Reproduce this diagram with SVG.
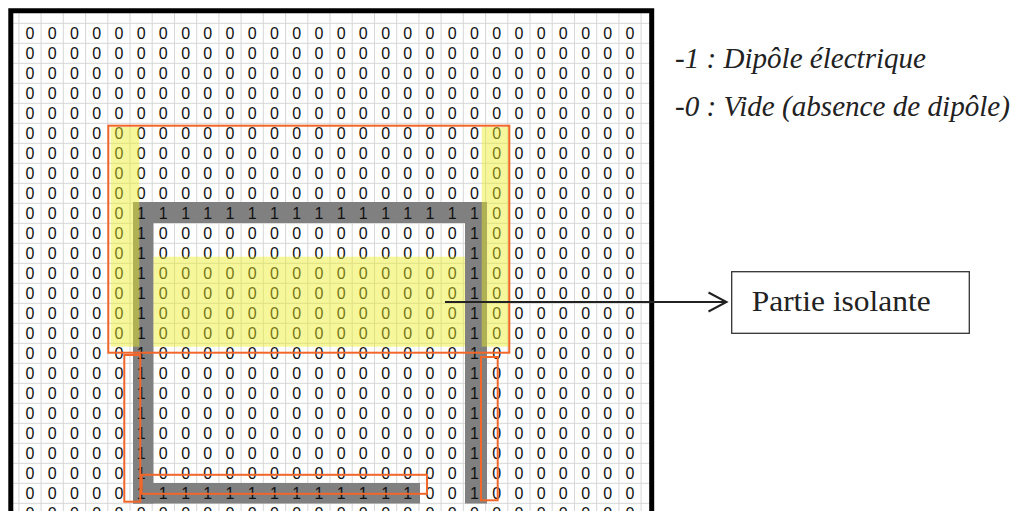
<svg xmlns="http://www.w3.org/2000/svg" width="1019" height="511" viewBox="0 0 1019 511">
<style>
.d{font-family:"Liberation Sans",Arial,sans-serif;font-size:16px;fill:#111;text-anchor:middle}
.grid{stroke:#d6d6d6;stroke-width:1;fill:none}
.gray{fill:#808080}
.yel{fill:rgb(235,235,30);fill-opacity:0.45}
.org{fill:none;stroke:#f2662a;stroke-width:2}
.leg{font-family:"Liberation Serif","Times New Roman",serif;font-style:italic;font-size:29px;fill:#222}
.lbl{font-family:"Liberation Serif","Times New Roman",serif;font-size:30px;fill:#222}
</style>
<defs>
<marker id="open" viewBox="0 0 22 22" refX="20" refY="11" markerWidth="22" markerHeight="22" markerUnits="userSpaceOnUse" orient="auto">
<path d="M2 1.5 L20 11 L2 20.5" fill="none" stroke="#222" stroke-width="2"/>
</marker>
</defs>
<rect width="1019" height="511" fill="#fff"/>
<g id="grid">
<path class="grid" d="M18.9 13V511M41.1 13V511M63.3 13V511M85.6 13V511M107.8 13V511M130 13V511M152.2 13V511M174.5 13V511M196.7 13V511M218.9 13V511M241.1 13V511M263.3 13V511M285.6 13V511M307.8 13V511M330 13V511M352.2 13V511M374.5 13V511M396.7 13V511M418.9 13V511M441.1 13V511M463.3 13V511M485.6 13V511M507.8 13V511M530 13V511M552.2 13V511M574.5 13V511M596.7 13V511M618.9 13V511M641.1 13V511M13 23.3H649M13 43.3H649M13 63.3H649M13 83.3H649M13 103.3H649M13 123.3H649M13 143.3H649M13 163.3H649M13 183.3H649M13 203.3H649M13 223.3H649M13 243.3H649M13 263.3H649M13 283.3H649M13 303.3H649M13 323.3H649M13 343.3H649M13 363.3H649M13 383.3H649M13 403.3H649M13 423.3H649M13 443.3H649M13 463.3H649M13 483.3H649M13 503.3H649"/>
</g>
<g id="dipoles">
<rect class="gray" x="133" y="202" width="354" height="21"/>
<rect class="gray" x="133" y="202" width="20.5" height="301.5"/>
<rect class="gray" x="465" y="202" width="22" height="301.5"/>
<rect class="gray" x="133" y="483" width="287" height="20.5"/>
</g>
<g id="values">
<text class="d" x="30 52.2 74.4 96.7 118.9 141.1 163.3 185.6 207.8 230 252.2 274.4 296.7 318.9 341.1 363.3 385.6 407.8 430 452.2 474.4 496.7 518.9 541.1 563.3 585.6 607.8 630" y="39">0000000000000000000000000000</text>
<text class="d" x="30 52.2 74.4 96.7 118.9 141.1 163.3 185.6 207.8 230 252.2 274.4 296.7 318.9 341.1 363.3 385.6 407.8 430 452.2 474.4 496.7 518.9 541.1 563.3 585.6 607.8 630" y="59">0000000000000000000000000000</text>
<text class="d" x="30 52.2 74.4 96.7 118.9 141.1 163.3 185.6 207.8 230 252.2 274.4 296.7 318.9 341.1 363.3 385.6 407.8 430 452.2 474.4 496.7 518.9 541.1 563.3 585.6 607.8 630" y="79">0000000000000000000000000000</text>
<text class="d" x="30 52.2 74.4 96.7 118.9 141.1 163.3 185.6 207.8 230 252.2 274.4 296.7 318.9 341.1 363.3 385.6 407.8 430 452.2 474.4 496.7 518.9 541.1 563.3 585.6 607.8 630" y="99">0000000000000000000000000000</text>
<text class="d" x="30 52.2 74.4 96.7 118.9 141.1 163.3 185.6 207.8 230 252.2 274.4 296.7 318.9 341.1 363.3 385.6 407.8 430 452.2 474.4 496.7 518.9 541.1 563.3 585.6 607.8 630" y="119">0000000000000000000000000000</text>
<text class="d" x="30 52.2 74.4 96.7 118.9 141.1 163.3 185.6 207.8 230 252.2 274.4 296.7 318.9 341.1 363.3 385.6 407.8 430 452.2 474.4 496.7 518.9 541.1 563.3 585.6 607.8 630" y="139">0000000000000000000000000000</text>
<text class="d" x="30 52.2 74.4 96.7 118.9 141.1 163.3 185.6 207.8 230 252.2 274.4 296.7 318.9 341.1 363.3 385.6 407.8 430 452.2 474.4 496.7 518.9 541.1 563.3 585.6 607.8 630" y="159">0000000000000000000000000000</text>
<text class="d" x="30 52.2 74.4 96.7 118.9 141.1 163.3 185.6 207.8 230 252.2 274.4 296.7 318.9 341.1 363.3 385.6 407.8 430 452.2 474.4 496.7 518.9 541.1 563.3 585.6 607.8 630" y="179">0000000000000000000000000000</text>
<text class="d" x="30 52.2 74.4 96.7 118.9 141.1 163.3 185.6 207.8 230 252.2 274.4 296.7 318.9 341.1 363.3 385.6 407.8 430 452.2 474.4 496.7 518.9 541.1 563.3 585.6 607.8 630" y="199">0000000000000000000000000000</text>
<text class="d" x="30 52.2 74.4 96.7 118.9 141.1 163.3 185.6 207.8 230 252.2 274.4 296.7 318.9 341.1 363.3 385.6 407.8 430 452.2 474.4 496.7 518.9 541.1 563.3 585.6 607.8 630" y="219">0000011111111111111110000000</text>
<text class="d" x="30 52.2 74.4 96.7 118.9 141.1 163.3 185.6 207.8 230 252.2 274.4 296.7 318.9 341.1 363.3 385.6 407.8 430 452.2 474.4 496.7 518.9 541.1 563.3 585.6 607.8 630" y="239">0000010000000000000010000000</text>
<text class="d" x="30 52.2 74.4 96.7 118.9 141.1 163.3 185.6 207.8 230 252.2 274.4 296.7 318.9 341.1 363.3 385.6 407.8 430 452.2 474.4 496.7 518.9 541.1 563.3 585.6 607.8 630" y="259">0000010000000000000010000000</text>
<text class="d" x="30 52.2 74.4 96.7 118.9 141.1 163.3 185.6 207.8 230 252.2 274.4 296.7 318.9 341.1 363.3 385.6 407.8 430 452.2 474.4 496.7 518.9 541.1 563.3 585.6 607.8 630" y="279">0000010000000000000010000000</text>
<text class="d" x="30 52.2 74.4 96.7 118.9 141.1 163.3 185.6 207.8 230 252.2 274.4 296.7 318.9 341.1 363.3 385.6 407.8 430 452.2 474.4 496.7 518.9 541.1 563.3 585.6 607.8 630" y="299">0000010000000000000010000000</text>
<text class="d" x="30 52.2 74.4 96.7 118.9 141.1 163.3 185.6 207.8 230 252.2 274.4 296.7 318.9 341.1 363.3 385.6 407.8 430 452.2 474.4 496.7 518.9 541.1 563.3 585.6 607.8 630" y="319">0000010000000000000010000000</text>
<text class="d" x="30 52.2 74.4 96.7 118.9 141.1 163.3 185.6 207.8 230 252.2 274.4 296.7 318.9 341.1 363.3 385.6 407.8 430 452.2 474.4 496.7 518.9 541.1 563.3 585.6 607.8 630" y="339">0000010000000000000010000000</text>
<text class="d" x="30 52.2 74.4 96.7 118.9 141.1 163.3 185.6 207.8 230 252.2 274.4 296.7 318.9 341.1 363.3 385.6 407.8 430 452.2 474.4 496.7 518.9 541.1 563.3 585.6 607.8 630" y="359">0000010000000000000010000000</text>
<text class="d" x="30 52.2 74.4 96.7 118.9 141.1 163.3 185.6 207.8 230 252.2 274.4 296.7 318.9 341.1 363.3 385.6 407.8 430 452.2 474.4 496.7 518.9 541.1 563.3 585.6 607.8 630" y="379">0000010000000000000010000000</text>
<text class="d" x="30 52.2 74.4 96.7 118.9 141.1 163.3 185.6 207.8 230 252.2 274.4 296.7 318.9 341.1 363.3 385.6 407.8 430 452.2 474.4 496.7 518.9 541.1 563.3 585.6 607.8 630" y="399">0000010000000000000010000000</text>
<text class="d" x="30 52.2 74.4 96.7 118.9 141.1 163.3 185.6 207.8 230 252.2 274.4 296.7 318.9 341.1 363.3 385.6 407.8 430 452.2 474.4 496.7 518.9 541.1 563.3 585.6 607.8 630" y="419">0000010000000000000010000000</text>
<text class="d" x="30 52.2 74.4 96.7 118.9 141.1 163.3 185.6 207.8 230 252.2 274.4 296.7 318.9 341.1 363.3 385.6 407.8 430 452.2 474.4 496.7 518.9 541.1 563.3 585.6 607.8 630" y="439">0000010000000000000010000000</text>
<text class="d" x="30 52.2 74.4 96.7 118.9 141.1 163.3 185.6 207.8 230 252.2 274.4 296.7 318.9 341.1 363.3 385.6 407.8 430 452.2 474.4 496.7 518.9 541.1 563.3 585.6 607.8 630" y="459">0000010000000000000010000000</text>
<text class="d" x="30 52.2 74.4 96.7 118.9 141.1 163.3 185.6 207.8 230 252.2 274.4 296.7 318.9 341.1 363.3 385.6 407.8 430 452.2 474.4 496.7 518.9 541.1 563.3 585.6 607.8 630" y="479">0000010000000000000010000000</text>
<text class="d" x="30 52.2 74.4 96.7 118.9 141.1 163.3 185.6 207.8 230 252.2 274.4 296.7 318.9 341.1 363.3 385.6 407.8 430 452.2 474.4 496.7 518.9 541.1 563.3 585.6 607.8 630" y="499">0000011111111111110010000000</text>
<text class="d" x="30 52.2 74.4 96.7 118.9 141.1 163.3 185.6 207.8 230 252.2 274.4 296.7 318.9 341.1 363.3 385.6 407.8 430 452.2 474.4 496.7 518.9 541.1 563.3 585.6 607.8 630" y="519">0000000000000000000000000000</text>
</g>
<g id="insulating-zone">
<rect class="yel" x="153.5" y="256.7" width="311.5" height="90"/>
<rect class="yel" x="110.7" y="127" width="28.6" height="219.7"/>
<rect class="yel" x="481.7" y="127" width="27.6" height="219.7"/>
</g>
<g id="frames">
<rect class="org" x="108.3" y="125.7" width="401" height="227"/>
<rect class="org" x="124.3" y="355" width="16" height="146.7"/>
<rect class="org" x="141.7" y="474.8" width="285.3" height="19"/>
<rect class="org" x="481" y="357" width="16.7" height="143.3"/>
</g>
<g id="border">
<path d="M10.8 511V10.8H651.7V511" fill="none" stroke="#000" stroke-width="5"/>
</g>
<g id="legend">
<text class="leg" x="675" y="68" textLength="251" lengthAdjust="spacingAndGlyphs">-1 : Dipôle électrique</text>
<text class="leg" x="675" y="116" textLength="335" lengthAdjust="spacingAndGlyphs">-0 : Vide (absence de dipôle)</text>
</g>
<g id="label-box">
<rect x="731.7" y="271.7" width="237.6" height="61.6" fill="#fff" stroke="#333" stroke-width="1.3"/>
<text class="lbl" x="751.7" y="311" textLength="179" lengthAdjust="spacingAndGlyphs">Partie isolante</text>
</g>
<g id="connectors">
<line x1="445" y1="302" x2="726.5" y2="302" stroke="#222" stroke-width="1.8" marker-end="url(#open)"/>
</g>
</svg>
